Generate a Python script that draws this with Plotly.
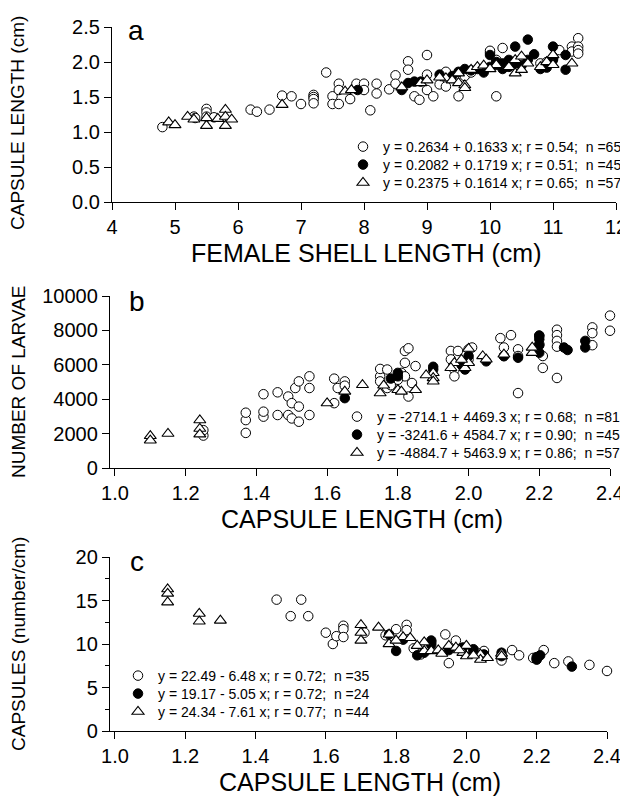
import plotly.graph_objects as go

# the page body keeps its default 8px margin, so the figure is drawn 8px in from the corner
OFF = 8
W, H = 628 - OFF, 797 - OFF

# panel a: capsule length vs female shell length
a_open_x = [4.8, 5.3, 5.32, 5.5, 5.5, 5.5, 5.62, 6.2, 6.3, 6.5, 6.7, 6.85, 7.0, 7.2, 7.2, 7.2, 7.2, 7.4, 7.5, 7.5,
            7.6, 7.6, 7.6, 7.78, 7.88, 8.0, 8.0, 8.1, 8.2, 8.2, 8.4, 8.5, 8.5, 8.7, 8.7, 8.8, 8.88, 9.0, 9.0, 9.0,
            9.1, 9.2, 9.3, 9.3, 9.5, 9.6, 9.7, 10.0, 10.0, 10.1, 10.1, 10.2, 10.5, 10.8, 10.9, 11.1, 11.3, 11.3,
            11.4, 11.4, 11.4, 11.4, 11.0, 9.9, 10.3]
a_open_y = [1.07, 1.22, 1.2, 1.33, 1.28, 1.22, 1.21, 1.32, 1.29, 1.32, 1.52, 1.51, 1.40, 1.53, 1.5, 1.47, 1.41, 1.85,
            1.51, 1.40, 1.40, 1.69, 1.60, 1.47, 1.69, 1.69, 1.60, 1.31, 1.69, 1.55, 1.61, 1.81, 1.69, 2.01, 1.89,
            1.51, 1.46, 2.1, 1.82, 1.6, 1.51, 1.68, 1.86, 1.65, 1.51, 1.8, 1.85, 2.13, 2.16, 1.51, 2.03, 2.2, 1.96,
            1.98, 2.0, 2.17, 2.22, 2.15, 2.34, 2.22, 2.17, 2.12, 2.05, 1.88, 1.95]
a_fill_x = [7.9, 8.6, 8.7, 8.8, 8.9, 9.2, 9.5, 9.6, 9.7, 9.9, 10.0, 10.0, 10.1, 10.2, 10.2, 10.3, 10.4, 10.4, 10.5,
            10.6, 10.6, 10.7, 10.8, 10.9, 11.0, 11.0, 11.2, 11.2, 9.8, 10.3, 10.1, 9.4]
a_fill_y = [1.6, 1.6, 1.7, 1.72, 1.72, 1.82, 1.86, 1.9, 1.88, 1.85, 2.1, 1.93, 1.96, 1.98, 1.9, 2.03, 2.22, 1.98,
            1.95, 2.32, 2.03, 2.11, 1.9, 1.92, 2.22, 2.03, 2.1, 1.89, 1.9, 1.93, 2.0, 1.8]
a_tri_x = [4.9, 5.0, 5.2, 5.3, 5.5, 5.5, 5.68, 5.8, 5.8, 5.8, 5.9, 6.7, 7.7, 7.8, 8.6, 8.9, 9.0, 9.3, 9.4, 9.5,
           9.5, 9.6, 9.6, 9.7, 9.8, 10.1, 10.3, 10.4, 10.4, 10.5, 10.5, 10.6, 10.8, 10.9, 11.0, 11.0, 11.3, 9.2,
           9.9, 10.0]
a_tri_y = [1.14, 1.1, 1.22, 1.18, 1.09, 1.2, 1.19, 1.32, 1.22, 1.09, 1.18, 1.39, 1.58, 1.6, 1.64, 1.7, 1.74, 1.77,
           1.74, 1.84, 1.7, 1.67, 1.63, 1.89, 1.93, 1.96, 1.93, 1.84, 2.03, 2.08, 1.89, 1.98, 1.93, 2.0, 2.1, 1.96,
           1.98, 1.78, 1.95, 1.9]
a_names = ["y = 0.2634 + 0.1633 x; r = 0.54;  n =65",
           "y = 0.2082 + 0.1719 x; r = 0.51;  n =45",
           "y = 0.2375 + 0.1614 x; r = 0.65;  n =57"]

# panel b: number of larvae vs capsule length
b_open_x = [1.37, 1.37, 1.37, 1.42, 1.42, 1.42, 1.46, 1.46, 1.49, 1.49, 1.5, 1.5, 1.51, 1.52, 1.52, 1.52, 1.55,
            1.55, 1.55, 1.62, 1.62, 1.63, 1.65, 1.65, 1.75, 1.75, 1.75, 1.77, 1.77, 1.81, 1.82, 1.82, 1.82, 1.83,
            1.8, 1.85, 1.84, 1.95, 1.95, 1.96, 1.96, 1.97, 2.0, 2.0, 2.01, 2.09, 2.1, 2.1, 2.12, 2.14, 2.14, 2.14,
            2.2, 2.2, 2.21, 2.21, 2.25, 2.25, 2.25, 2.25, 2.25, 2.35, 2.35, 2.35, 2.4, 2.4, 1.25, 1.25, 1.78, 1.83]
b_open_y = [2040, 2785, 3215, 4290, 2985, 3275, 4400, 3080, 3080, 4155, 3770, 2880, 4650, 5035, 2690, 3570, 5330,
            4650, 3080, 5195, 3770, 4650, 5035, 4785, 5330, 5760, 5035, 5725, 4650, 5530, 6805, 6115, 5330, 4155,
            5130, 5925, 4940, 6805, 6315, 5725, 5330, 6805, 6900, 6315, 7005, 7550, 7005, 6510, 7725, 4355, 6900,
            6510, 7195, 7685, 5820, 6510, 8040, 7725, 7390, 7055, 5235, 8175, 7840, 7140, 8860, 7980, 1885, 2200,
            4815, 6960]
b_fill_x = [1.65, 1.8, 1.8, 1.9, 1.9, 1.99, 2.0, 2.14, 2.2, 2.2, 2.2, 2.27, 2.28, 2.33, 2.33, 1.98, 2.05, 2.2,
            1.78, 2.1]
b_fill_y = [4060, 5330, 5530, 5885, 5725, 5725, 6510, 6410, 7485, 7140, 6700, 7005, 6860, 7390, 7005, 6000, 6200,
            7700, 5200, 6500]
b_tri_x = [1.1, 1.1, 1.15, 1.24, 1.24, 1.24, 1.6, 1.65, 1.7, 1.75, 1.8, 1.81, 1.85, 1.9, 1.9, 1.9, 1.96, 1.95,
           1.99, 2.0, 2.0, 2.04, 2.05, 2.1, 2.18, 2.18, 1.76, 1.88, 1.98]
b_tri_y = [1865, 1610, 2000, 2785, 2290, 1960, 3770, 4450, 4835, 4355, 4545, 4450, 4545, 5530, 5235, 5035, 6115,
           5820, 5820, 6115, 6940, 6510, 6315, 6605, 6700, 7005, 4800, 5400, 6300]
b_names = ["y = -2714.1 + 4469.3 x; r = 0.68;  n =81",
           "y = -3241.6 + 4584.7 x; r = 0.90;  n =45",
           "y = -4884.7 + 5463.9 x; r = 0.86;  n =57"]

# panel c: capsules per cm vs capsule length
c_open_x = [1.46, 1.5, 1.53, 1.55, 1.6, 1.62, 1.63, 1.65, 1.65, 1.65, 1.71, 1.8, 1.83, 1.83, 1.87, 1.94, 1.95,
            1.97, 2.05, 2.1, 2.1, 2.13, 2.15, 2.19, 2.22, 2.25, 2.29, 2.35, 2.4, 1.77, 1.9, 2.0, 2.03, 1.85, 2.2]
c_open_y = [15.1, 13.2, 15.1, 13.2, 11.3, 10.0, 10.9, 12.1, 11.7, 10.8, 11.3, 11.7, 12.2, 11.6, 8.8, 11.1, 7.8,
            10.4, 9.2, 8.4, 8.1, 9.3, 8.7, 8.4, 9.3, 7.8, 8.0, 7.6, 6.9, 11.0, 10.2, 9.5, 9.0, 9.5, 8.3]
c_fill_x = [1.78, 1.8, 1.86, 1.9, 1.9, 1.99, 2.02, 2.1, 2.2, 2.2, 2.3, 1.82, 1.88, 1.95, 2.05, 2.1, 2.21, 2.02]
c_fill_y = [11.1, 9.2, 8.7, 10.4, 9.9, 9.6, 9.4, 9.0, 8.5, 8.2, 7.4, 10.5, 9.0, 9.3, 8.8, 8.6, 8.7, 9.2]
c_tri_x = [1.15, 1.15, 1.15, 1.24, 1.24, 1.3, 1.7, 1.7, 1.7, 1.75, 1.78, 1.78, 1.82, 1.84, 1.88, 1.88, 1.9, 1.92,
           1.95, 1.97, 1.99, 2.0, 2.0, 2.04, 2.04, 2.1, 1.8, 1.86, 1.93, 1.98, 2.02, 2.06, 2.1]
c_tri_y = [16.3, 15.8, 14.8, 13.5, 12.6, 12.7, 12.2, 11.3, 10.4, 11.9, 11.1, 10.0, 10.8, 10.7, 10.2, 9.2, 9.2, 9.3,
           9.8, 9.6, 9.0, 9.8, 8.6, 8.8, 8.2, 8.9, 10.4, 9.8, 8.9, 9.3, 8.7, 8.4, 8.6]
c_names = ["y = 22.49 - 6.48 x; r = 0.72;  n =35",
           "y = 19.17 - 5.05 x; r = 0.72;  n =24",
           "y = 24.34 - 7.61 x; r = 0.77;  n =44"]

FONT = "Liberation Sans, Arial, sans-serif"


def px(x):
    """Window pixel x -> paper coordinate."""
    return (x - OFF) / W


def py(y):
    """Window pixel y -> paper coordinate."""
    return 1 - (y - OFF) / H


open_marker = dict(symbol="circle", size=9.5, color="white", line=dict(color="black", width=1))
fill_marker = dict(symbol="circle", size=9.5, color="black", line=dict(color="black", width=1))
tri_marker = dict(symbol="triangle-up", size=10.5, color="white", line=dict(color="black", width=1.1))

fig = go.Figure()

# one single-entry legend per row so rows sit where the reference has them
# (marker centre x, row centres y) in window pixels
panels = [
    ("x", "y", [(a_open_x, a_open_y), (a_fill_x, a_fill_y), (a_tri_x, a_tri_y)], a_names, 363, [147, 165, 183]),
    ("x2", "y2", [(b_open_x, b_open_y), (b_fill_x, b_fill_y), (b_tri_x, b_tri_y)], b_names, 357, [417, 435, 453]),
    ("x3", "y3", [(c_open_x, c_open_y), (c_fill_x, c_fill_y), (c_tri_x, c_tri_y)], c_names, 138, [676, 694, 712]),
]
legend_common = dict(bgcolor="rgba(0,0,0,0)", font=dict(family=FONT, size=14, color="black"),
                     xanchor="left", yanchor="middle", borderwidth=0)
legends = {}
k = 0
for xa, ya, series, names, mx, rows in panels:
    for (xs, ys), mk, nm, ry in zip(series, [open_marker, fill_marker, tri_marker], names, rows):
        k += 1
        lg = "legend" if k == 1 else f"legend{k}"
        fig.add_trace(go.Scatter(x=xs, y=ys, mode="markers", marker=mk, name=nm,
                                 xaxis=xa, yaxis=ya, legend=lg, cliponaxis=False))
        legends[lg] = dict(x=px(mx - 20), y=py(ry), **legend_common)
fig.update_layout(showlegend=True, **legends)

axis_common = dict(showline=True, linecolor="black", linewidth=1.3, ticks="outside", ticklen=7,
                   tickwidth=1.2, tickcolor="black", showgrid=False, zeroline=False,
                   tickfont=dict(family=FONT, size=20, color="black"))

fig.update_layout(
    width=W, height=H, margin=dict(l=0, r=0, t=0, b=0, autoexpand=False),
    paper_bgcolor="white", plot_bgcolor="white",
    xaxis=dict(domain=[px(112), px(616)], range=[4, 12], dtick=1, anchor="y", **axis_common),
    yaxis=dict(domain=[py(202), py(27)], range=[0, 2.5], dtick=0.5, tickformat=".1f", anchor="x",
               **axis_common),
    xaxis2=dict(domain=[px(110), px(610)], range=[0.986, 2.4], tick0=1, dtick=0.2, tickformat=".1f",
                anchor="y2", **axis_common),
    yaxis2=dict(domain=[py(468), py(296)], range=[0, 10000], dtick=2000, tickformat="d", anchor="x2",
                **axis_common),
    xaxis3=dict(domain=[px(110), px(607)], range=[0.986, 2.4], tick0=1, dtick=0.2, tickformat=".1f",
                anchor="y3", **axis_common),
    yaxis3=dict(domain=[py(731), py(557)], range=[0, 20], dtick=5, anchor="x3",
                minor=dict(dtick=2.5, ticks="outside", ticklen=4, tickcolor="black"), **axis_common),
)

# panel letters
for txt, x0, y0 in [("a", 136, 31), ("b", 137, 301), ("c", 137, 561)]:
    fig.add_annotation(x=px(x0), y=py(y0), xref="paper", yref="paper", text=txt, showarrow=False,
                       xanchor="center", yanchor="middle",
                       font=dict(family=FONT, size=28, color="black"))

# axis titles
x_titles = [("FEMALE SHELL LENGTH (cm)", 366, 253), ("CAPSULE LENGTH (cm)", 362, 519),
            ("CAPSULE LENGTH (cm)", 360, 782)]
for txt, x0, y0 in x_titles:
    fig.add_annotation(x=px(x0), y=py(y0), xref="paper", yref="paper", text=txt, showarrow=False,
                       xanchor="center", yanchor="middle",
                       font=dict(family=FONT, size=25, color="black"))
y_titles = [("CAPSULE LENGTH (cm)", 123), ("NUMBER OF LARVAE", 382), ("CAPSULES (number/cm)", 644)]
for txt, y0 in y_titles:
    fig.add_annotation(x=px(18), y=py(y0), xref="paper", yref="paper", text=txt, showarrow=False,
                       textangle=-90, xanchor="center", yanchor="middle",
                       font=dict(family=FONT, size=19, color="black"))

fig.write_html("out.html")
